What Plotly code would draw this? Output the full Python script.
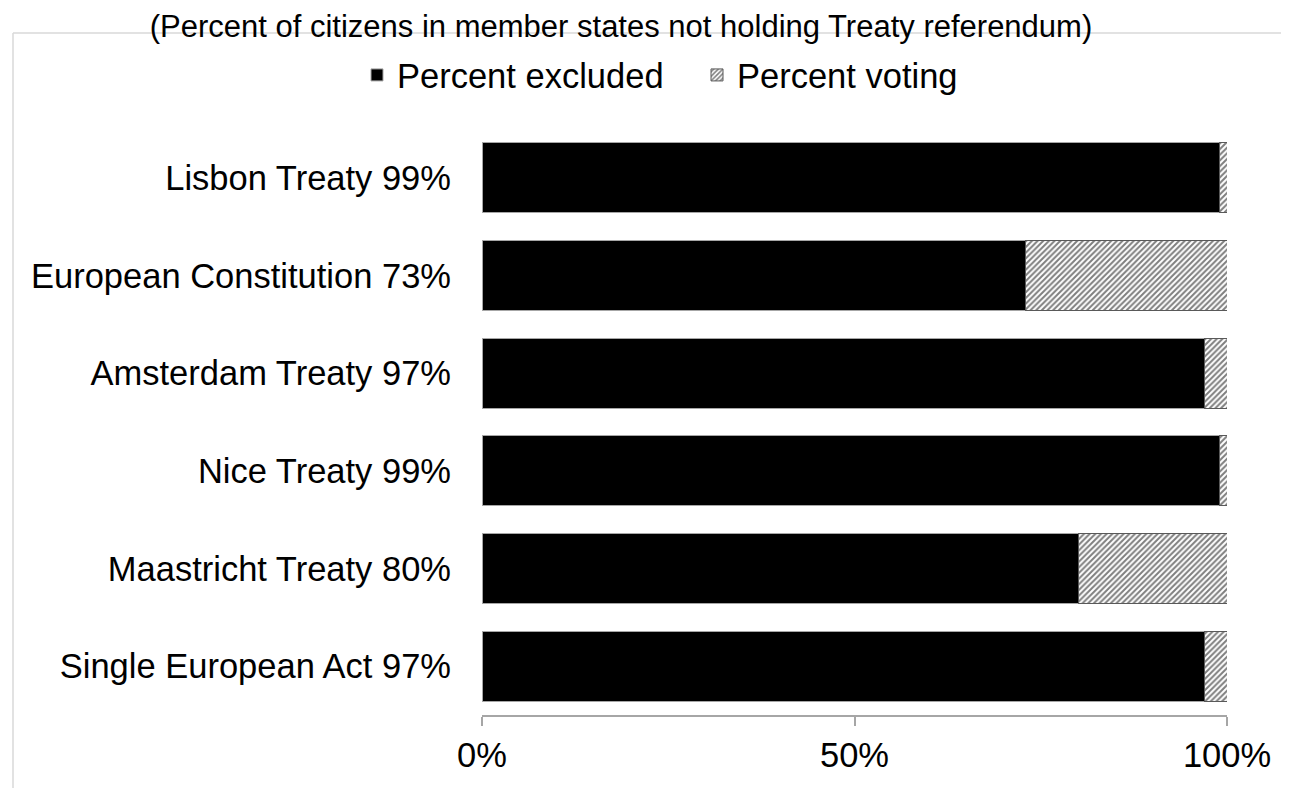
import plotly.graph_objects as go

categories = ["Lisbon Treaty 99%", "European Constitution 73%", "Amsterdam Treaty 97%",
              "Nice Treaty 99%", "Maastricht Treaty 80%", "Single European Act 97%"]
percent_excluded = [99, 73, 97, 99, 80, 97]
percent_voting = [1, 27, 3, 1, 20, 3]
tick_vals = [0, 50, 100]
tick_text = ["0%", "50%", "100%"]
title_text = "(Percent of citizens in member states not holding Treaty referendum)"

W, H = 1289, 788
OFF = 8  # default page body margin
ML, MR, MT, MB = 474, 70, 121, 81
FONT = "Arial, 'Liberation Sans', sans-serif"

fig = go.Figure()
fig.add_trace(go.Bar(
    y=categories, x=percent_excluded, orientation="h", name="Percent excluded",
    marker=dict(color="black", line=dict(color="#a6a6a6", width=1)),
    width=0.72, hoverinfo="skip"))
fig.add_trace(go.Bar(
    y=categories, x=percent_voting, orientation="h", name="Percent voting",
    marker=dict(color="white", line=dict(color="#595959", width=1),
                pattern=dict(shape="/", fgcolor="black", bgcolor="white", size=4, solidity=0.5)),
    width=0.72, hoverinfo="skip"))

pw, ph = W - ML - MR, H - MT - MB
def px_x(p):
    return (p - OFF - ML) / pw
def px_y(p):
    return (H - MB - (p - OFF)) / ph

fig.update_layout(
    width=W, height=H, barmode="stack",
    margin=dict(l=ML, r=MR, t=MT, b=MB, pad=0),
    paper_bgcolor="white", plot_bgcolor="white",
    font=dict(family=FONT, size=34.5, color="black"),
    title=dict(text=title_text, x=(621 - OFF) / W, xanchor="center", xref="container",
               y=1 - (26 - OFF) / H, yanchor="middle", yref="container",
               font=dict(size=31, color="black")),
    legend=dict(orientation="h", xref="container", yref="container",
                x=(357 - OFF) / W, xanchor="left", y=1 - (75 - OFF) / H, yanchor="middle",
                font=dict(size=34.5), traceorder="normal", bgcolor="rgba(0,0,0,0)",
                entrywidth=295),
    xaxis=dict(range=[0, 100], tickvals=tick_vals, ticktext=tick_text,
               showgrid=False, zeroline=False, showline=True, linecolor="#a6a6a6", linewidth=2,
               ticks="outside", ticklen=9, tickwidth=2, tickcolor="#a6a6a6",
               fixedrange=True),
    yaxis=dict(range=[5.5, -0.5], showgrid=False, zeroline=False, showline=False,
               ticks="", ticklabelstandoff=30, fixedrange=True),
    shapes=[
        dict(type="line", xref="paper", yref="paper", x0=px_x(13), x1=px_x(1300),
             y0=px_y(33), y1=px_y(33), line=dict(color="#d9d9d9", width=1.5), layer="below"),
        dict(type="line", xref="paper", yref="paper", x0=px_x(13), x1=px_x(13),
             y0=px_y(33), y1=px_y(800), line=dict(color="#d9d9d9", width=1.5), layer="below"),
    ],
)

fig.write_html("out.html", config={"displayModeBar": False})
